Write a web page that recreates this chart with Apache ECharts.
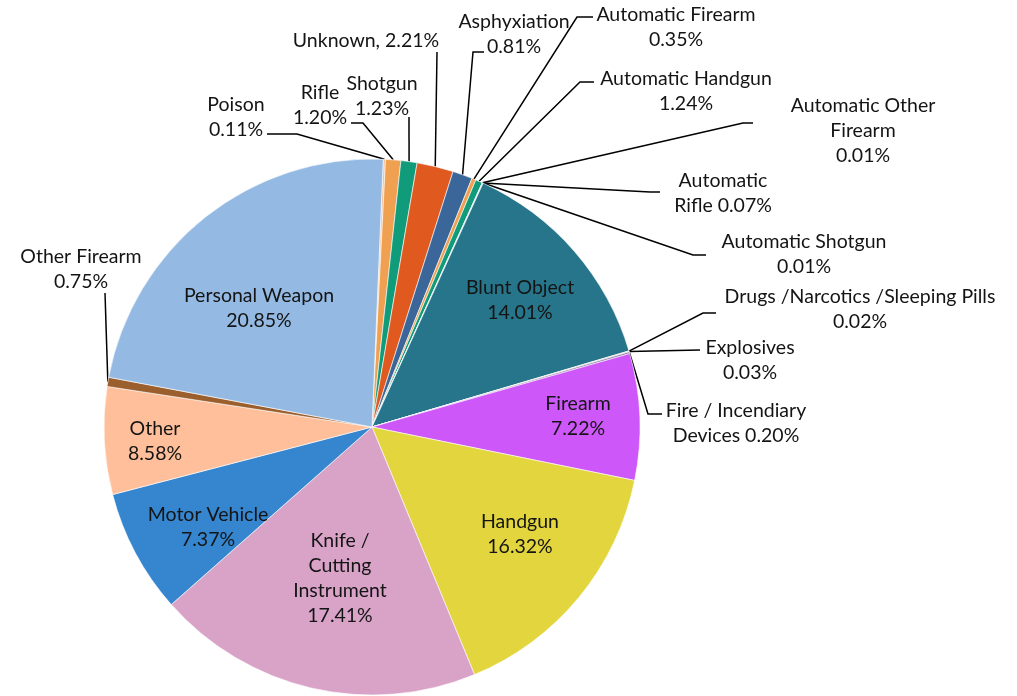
<!DOCTYPE html>
<html>
<head>
<meta charset="utf-8">
<title>Weapon type share</title>
<script src="https://cdn.jsdelivr.net/npm/echarts/dist/echarts.min.js"></script>
<style>
  html, body { margin: 0; padding: 0; background: #fff; }
  #chart { width: 1017px; height: 696px; }
</style>
</head>
<body>
<div id="chart"></div>
<script>
// slices, clockwise from just right of 12 o'clock
const categories = [
  "Poison", "Rifle", "Shotgun", "Unknown", "Asphyxiation",
  "Automatic Firearm", "Automatic Handgun", "Automatic Other Firearm",
  "Automatic Rifle", "Automatic Shotgun", "Blunt Object",
  "Drugs /Narcotics /Sleeping Pills", "Explosives", "Fire / Incendiary Devices",
  "Firearm", "Handgun", "Knife / Cutting Instrument", "Motor Vehicle",
  "Other", "Other Firearm", "Personal Weapon"
];
// slice sizes as drawn (degrees of arc)
const sliceShare = [
  0.5, 3.3, 3.5, 7.9, 4.3,
  0.9, 1.5, 0.05,
  0.1, 0.05, 49.0,
  0.1, 0.1, 0.4,
  27.4, 56.0, 71.0, 26.9,
  23.3, 2.0, 81.7
];
// label texts as printed
const labelText = [
  "Poison\n0.11%", "Rifle\n1.20%", "Shotgun\n1.23%", "Unknown, 2.21%", "Asphyxiation\n0.81%",
  "Automatic Firearm\n0.35%", "Automatic Handgun\n1.24%", "Automatic Other\nFirearm\n0.01%",
  "Automatic\nRifle 0.07%", "Automatic Shotgun\n0.01%", "Blunt Object\n14.01%",
  "Drugs /Narcotics /Sleeping Pills\n0.02%", "Explosives\n0.03%", "Fire / Incendiary\nDevices 0.20%",
  "Firearm\n7.22%", "Handgun\n16.32%", "Knife /\nCutting\nInstrument\n17.41%", "Motor Vehicle\n7.37%",
  "Other\n8.58%", "Other Firearm\n0.75%", "Personal Weapon\n20.85%"
];

const sliceColors = [
  "#f6bf98", "#efa151", "#109b7b", "#e05a1f", "#3b6699",
  "#efa151", "#109b7b", "#e05a1f",
  "#3b6699", "#7fb0e0", "#27758a",
  "#b08a70", "#c7a58a", "#8f7fa0",
  "#cd57f8", "#e2d53d", "#d9a3c8", "#3585cf",
  "#ffbf9a", "#9b5f2e", "#94b9e2"
];

// big slices keep their label on the slice
const insideLabels = [10, 14, 15, 16, 17, 18, 20];

// label centres (px)
const labelSpots = {
  0: [236, 117], 1: [320, 105], 2: [382, 96], 3: [366, 41], 4: [514, 34],
  5: [676, 27], 6: [686, 91], 7: [863, 131], 8: [723, 193], 9: [804, 254],
  10: [520, 300], 11: [860, 309], 12: [750, 360], 13: [736, 423],
  14: [578, 416], 15: [520, 534], 16: [340, 578], 17: [208, 527],
  18: [155, 441], 19: [81, 269], 20: [259, 308]
};
// leader line bend + end next to the text (px)
const leaderEnds = {
  0: [[297, 134], [267, 134]], 1: [[363, 123], [351, 123]],
  2: [[409, 117], [409, 117]], 3: [[437, 52], [437, 52]],
  4: [[473, 52], [484, 52]], 5: [[577, 17], [593, 17]],
  6: [[580, 82], [594, 82]], 7: [[743, 123], [753, 123]],
  8: [[650, 192], [660, 192]], 9: [[693, 255], [706, 255]],
  11: [[703, 313], [716, 313]], 12: [[700, 350], [700, 350]],
  13: [[648, 414], [662, 414]], 19: [[105, 293], [105, 293]]
};

const chart = echarts.init(document.getElementById("chart"), null, { renderer: "canvas" });

const option = {
  animation: false,
  series: [
    {
      type: "pie",
      center: [372, 427],
      radius: 268,
      startAngle: 87.6,
      clockwise: true,
      avoidLabelOverlap: false,
      itemStyle: { borderColor: "#fff", borderWidth: 0.6 },
      label: {
        show: true,
        color: "#141414",
        fontFamily: "Lato",
        fontSize: 19.5,
        lineHeight: 25,
        align: "center",
        formatter: (p) => labelText[p.dataIndex],
      },
      labelLine: {
        show: true,
        length: 20,
        length2: 10,
        lineStyle: { color: "#000", width: 1.5 },
      },
      labelLayout: (params) => {
        const i = params.dataIndex;
        const spot = labelSpots[i];
        const out = { x: spot[0], y: spot[1], align: "center", verticalAlign: "middle" };
        if (leaderEnds[i] && params.labelLinePoints) {
          out.labelLinePoints = [params.labelLinePoints[0]].concat(leaderEnds[i]);
        }
        return out;
      },
      emphasis: { disabled: true },
      data: categories.map((name, i) => {
        const inside = insideLabels.indexOf(i) >= 0;
        return {
          name: name,
          value: sliceShare[i],
          itemStyle: { color: sliceColors[i] },
          label: { position: inside ? "inside" : "outside" },
          labelLine: { show: !inside },
        };
      }),
    },
  ],
};

chart.setOption(option);
</script>
</body>
</html>
